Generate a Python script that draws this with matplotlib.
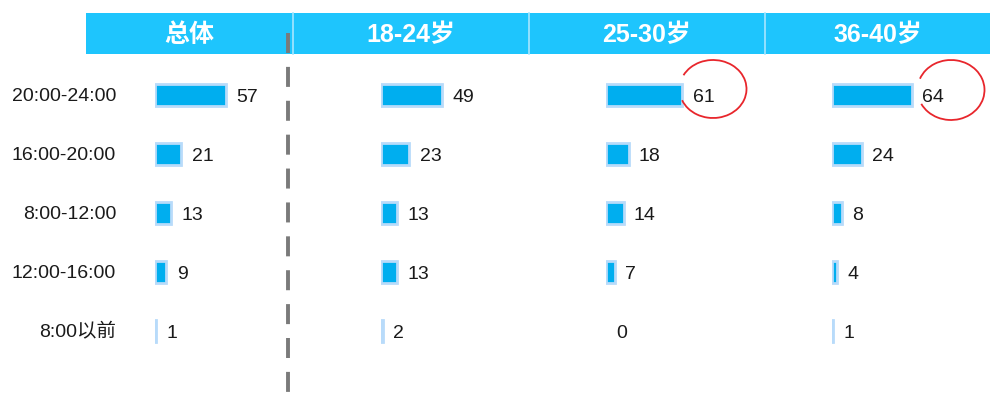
import matplotlib
matplotlib.use("Agg")
import matplotlib.pyplot as plt
from matplotlib.patches import Rectangle, Arc
from matplotlib.lines import Line2D

plt.rcParams['font.family'] = ['Liberation Sans', 'Noto Sans CJK SC', 'DejaVu Sans']
plt.rcParams['lines.scale_dashes'] = False

categories = ['20:00-24:00', '16:00-20:00', '8:00-12:00', '12:00-16:00', '8:00以前']
groups = ['总体', '18-24岁', '25-30岁', '36-40岁']
values_total = [57, 21, 13, 9, 1]
values_18_24 = [49, 23, 13, 13, 2]
values_25_30 = [61, 18, 14, 7, 0]
values_36_40 = [64, 24, 8, 4, 1]
series = [values_total, values_18_24, values_25_30, values_36_40]

W, H = 990, 405
fig = plt.figure(figsize=(W / 100, H / 100), dpi=100)

def fx(px):
    return px / W

def fy(py):
    return 1 - py / H

HEADER = '#1ec5fd'
BAR = '#00aeef'
GLOW = '#b8dbfa'

# header band
hx0, hx1, hy0, hy1 = 86, 990, 13, 54
seps = [86, 293, 529, 765, 990]
fig.patches.append(Rectangle((fx(hx0), fy(hy1)), fx(hx1 - hx0), (hy1 - hy0) / H,
                             transform=fig.transFigure, facecolor=HEADER, edgecolor='none', zorder=1))
for s in seps[1:-1]:
    fig.lines.append(Line2D([fx(s), fx(s)], [fy(hy1), fy(hy0)], transform=fig.transFigure,
                            color='#a6e6ff', lw=1.2, zorder=2))
for i, g in enumerate(groups):
    cx = (seps[i] + seps[i + 1]) / 2
    fig.text(fx(cx), fy((hy0 + hy1) / 2 + 2), g, ha='center', va='center', color='white',
             fontsize=18, fontweight='bold', zorder=3)

# dashed divider
fig.lines.append(Line2D([fx(288), fx(288)], [fy(33), fy(405)], transform=fig.transFigure,
                        color='#7a7a7a', lw=2.8, linestyle=(0, (14.4, 10.0)), zorder=4))

# panels
row_top, row_step = 95, 59
ax_top = row_top - 0.5 * row_step
ax_bot = row_top + 4.5 * row_step
px_per_unit = 1.25
ax_w = 150
starts = [155, 380.5, 606, 832]
for i, vals in enumerate(series):
    ax = fig.add_axes([fx(starts[i]), fy(ax_bot), fx(ax_w), (ax_bot - ax_top) / H])
    ax.set_xlim(0, ax_w / px_per_unit)
    ax.set_ylim(4.5, -0.5)
    ax.axis('off')
    ypos = list(range(len(categories)))
    lws = [2.0 if v > 0 else 0 for v in vals]
    ax.barh(ypos, vals, height=22 / row_step, color=BAR, edgecolor=GLOW, linewidth=lws, zorder=2)
    for y, v in zip(ypos, vals):
        ax.annotate(str(v), (v, y), xytext=(7.5, -2), textcoords='offset points',
                    ha='left', va='center', fontsize=14, color='#1a1a1a', annotation_clip=False)

# category labels
for j, c in enumerate(categories):
    fig.text(fx(116), fy(row_top + j * row_step + 1.5), c, ha='right', va='center',
             fontsize=14, color='#1a1a1a')

# hand-drawn red circles
fig.patches.append(Arc((713, H - 89), 67, 58, angle=0, theta1=200, theta2=515,
                       transform=None, color='#e8262c', lw=1.3))
fig.patches.append(Arc((951, H - 90), 67, 60, angle=0, theta1=205, theta2=520,
                       transform=None, color='#e8262c', lw=1.3))

fig.savefig('out.png', dpi=100)
